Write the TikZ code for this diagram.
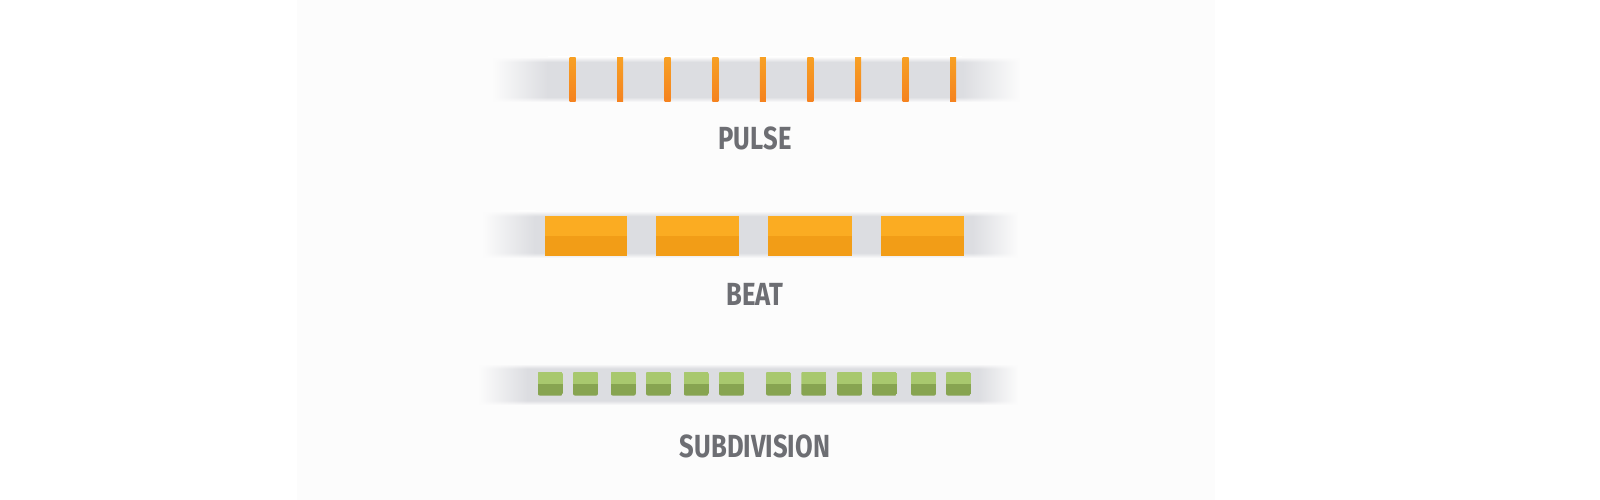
\documentclass[tikz,border=0pt]{standalone}
\usepackage{fontspec}
\setmainfont{Fira Sans}
\usetikzlibrary{fadings}
\definecolor{panel}{HTML}{FCFCFC}
\definecolor{bandgray}{HTML}{DCDDE1}
\definecolor{ticktop}{HTML}{F7A024}
\definecolor{tickbot}{HTML}{F5821F}
\definecolor{beattop}{HTML}{FBAC22}
\definecolor{beatbot}{HTML}{F29D17}
\definecolor{subtop}{HTML}{A8C86E}
\definecolor{subbot}{HTML}{87A451}
\definecolor{labelgray}{HTML}{6D6E73}
\pgfdeclareverticalshading{bandshade}{100bp}{%
  color(0bp)=(panel); color(25bp)=(panel); color(30.5bp)=(bandgray);
  color(69.5bp)=(bandgray); color(75bp)=(panel); color(100bp)=(panel)}
\tikzfading[name=fadein, left color=transparent!100, right color=transparent!0]
\tikzfading[name=fadeout, left color=transparent!0, right color=transparent!100]
\tikzset{
  label text/.style={text=labelgray, font=\fontsize{32}{34}\selectfont\bfseries, inner sep=0pt},
  band piece/.style={shading=bandshade},
}
\newcommand{\myband}[6]{% xa xb xc xd y0 y1
  \shade[band piece, path fading=fadein] (#1,#5-4) rectangle (#2+0.3,#6+4);
  \shade[band piece] (#2,#5-4) rectangle (#3,#6+4);
  \shade[band piece, path fading=fadeout] (#3-0.3,#5-4) rectangle (#4,#6+4);
}
\newcommand{\mytick}[2]{% name, center x
  \shade[top color=ticktop, bottom color=tickbot] (#2-3,57.3) rectangle (#2+3,101.7);
  \coordinate (#1) at (#2,79.5);
}
\newcommand{\mybeat}[3]{% name, x0, x1
  \fill[beattop] (#2,215.7) rectangle (#3,236.3);
  \fill[beatbot] (#2,236.3) rectangle (#3,256);
  \coordinate (#1) at ({(#2+#3)/2},235.8);
}
\newcommand{\mysub}[2]{% name, x0
  \begin{scope}
    \clip[rounded corners=2] (#2,371.5) rectangle (#2+25,395.6);
    \fill[subtop] (#2,371.5) rectangle (#2+25,383.6);
    \fill[subbot] (#2,383.6) rectangle (#2+25,395.6);
  \end{scope}
  \coordinate (#1) at (#2+12.5,383.6);
}
\begin{document}
\begin{tikzpicture}[x=1pt,y=-1pt]
\useasboundingbox (0,0) rectangle (1600,500);
\fill[white] (0,0) rectangle (1600,500);
\fill[panel] (297,0) rectangle (1215,500);
% pulse
\myband{493}{548}{962}{1020}{61}{98}
\foreach \i/\x in {1/572.7,2/620.2,3/667.7,4/715.3,5/762.8,6/810.4,7/858.0,8/905.6,9/953.2}{
  \mytick{p\i}{\x}
}
\node[label text] (pulse) at (755,138.3) {\scalebox{0.8}[1]{PULSE}};
% beat
\myband{483}{535}{972}{1018}{215}{254}
\mybeat{b1}{545}{627.4}
\mybeat{b2}{656.3}{738.9}
\mybeat{b3}{768.2}{851.5}
\mybeat{b4}{880.8}{963.5}
\node[label text] (beat) at (755,294) {\scalebox{0.8}[1]{BEAT}};
% subdivision
\myband{479}{528}{978}{1018}{368}{401}
\foreach \i/\x in {1/537.8,2/573,3/610.8,4/646,5/683.8,6/719,7/766,8/801.3,9/837,10/871.9,11/911,12/946}{
  \mysub{s\i}{\x}
}
\node[label text] (subdivision) at (755,446.6) {\scalebox{0.8}[1]{SUBDIVISION}};
\end{tikzpicture}
\end{document}
